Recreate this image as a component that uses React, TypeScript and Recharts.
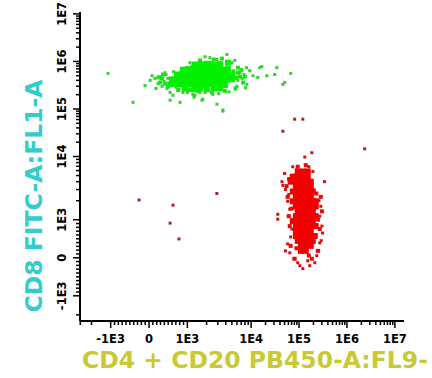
import { ScatterChart, Scatter, XAxis, YAxis, Label } from "recharts"

// axis decades as shown on the cytometer plot
const MAJOR_TICKS = [-1e3, 0, 1e3, 1e4, 1e5, 1e6, 1e7]
const MAJOR_LABELS = ["-1E3", "0", "1E3", "1E4", "1E5", "1E6", "1E7"]

// [CD4+CD20 PB450, CD8 FITC] event values
const GREEN_CORE: [number, number][] = [
  [1310, 8.6e5], [1580, 8.8e5], [1890, 8.6e5], [2260, 8.9e5], [2710, 8.6e5], [3240, 8.8e5], [4330, 9.4e5],
  [885, 6.7e5], [1020, 6.9e5], [1270, 6.7e5], [1470, 6.8e5], [1750, 6.7e5], [2100, 6.9e5], [2510, 6.7e5], [3010, 6.8e5], [3610, 6.7e5], [4330, 6.9e5],
  [730, 5.3e5], [860, 5.4e5], [990, 5.3e5], [1220, 5.2e5], [1410, 5.3e5], [1690, 5.4e5], [2030, 5.3e5], [2430, 5.2e5], [2910, 5.3e5], [3480, 5.4e5], [4170, 5.3e5], [5000, 5.2e5],
  [600, 4.2e5], [730, 4.3e5], [860, 4.2e5], [990, 4.1e5], [1220, 4.2e5], [1410, 4.3e5], [1690, 4.2e5], [2030, 4.1e5], [2430, 4.2e5], [2910, 4.3e5], [3480, 4.2e5], [4170, 4.1e5], [5000, 4.2e5],
  [550, 3.3e5], [680, 3.4e5], [810, 3.3e5], [940, 3.2e5], [1100, 3.3e5], [1310, 3.4e5], [1580, 3.3e5], [1890, 3.2e5], [2260, 3.3e5], [2710, 3.4e5], [3240, 3.3e5], [3880, 3.2e5],
  [940, 2.7e5], [1310, 2.6e5], [1580, 2.7e5], [2030, 2.6e5], [2610, 2.7e5], [3240, 2.7e5],
]

const GREEN_EDGE: [number, number][] = [
  [1580, 1.05e6], [2610, 1.1e6], [3480, 1.15e6], [1960, 9.4e5], [6200, 7.4e5], [6660, 4.8e5], [7500, 3.6e5],
  [5700, 2.7e5], [6200, 5.8e5], [339, 4.4e5], [417, 3.4e5], [290, 3.6e5], [365, 5.3e5], [495, 3.0e5],
  [1100, 2.5e5], [1470, 2.4e5], [2430, 2.23e5], [3880, 2.4e5], [760, 2.5e5], [5300, 6.2e5], [1200, 7.8e5],
  [7000, 6.6e5], [5900, 4.5e5], [8000, 4.8e5], [250, 4.6e5],
]

const GREEN_SPARSE: [number, number][] = [
  [-1100, 5.6e5], [-417, 1.38e5], [-104, 3.1e5], [78, 5.0e5], [30, 4.0e5], [156, 4.4e5], [234, 3.4e5], [290, 4.8e5],
  [339, 3.0e5], [391, 3.8e5], [443, 5.3e5], [469, 2.7e5], [495, 4.4e5], [417, 5.8e5], [182, 2.7e5], [550, 2.23e5],
  [625, 1.94e5], [550, 1.53e5], [810, 1.38e5], [885, 2.23e5], [1000, 2.23e5], [1220, 2.03e5], [1270, 1.76e5],
  [1310, 1.94e5], [1580, 2.23e5], [1690, 1.53e5], [1750, 1.6e5], [1890, 2.23e5], [2510, 2.03e5], [2910, 1.26e5],
  [3610, 9.5e4], [3610, 9.0e4], [2260, 1.2e6], [4170, 1.4e6], [5560, 1.05e6], [8500, 7.4e5], [1.09e4, 5.0e5],
  [1.52e4, 7.4e5], [1.67e4, 7.8e5], [2.13e4, 5.0e5], [1.38e4, 4.6e5], [3.44e4, 7.4e5], [3.1e4, 5.3e5],
  [4.6e4, 3.3e5], [5.0e4, 3.6e5], [6.7e4, 5.6e5], [8600, 3.3e5], [6200, 4.0e5], [6660, 5.8e5], [7200, 4.4e5],
  [6000, 3.0e5], [7700, 5.3e5], [1100, 9.4e5], [5000, 9.4e5], [2910, 1.1e6], [9500, 6.4e5], [8200, 2.8e5],
  [640, 6.1e5], [700, 2.9e5], [3100, 2.1e5], [4500, 2.3e5], [1900, 1.25e6],
]

const RED_CORE: [number, number][] = [
  [9.4e4, 5.8e3], [1.2e5, 5.8e3], [1.52e5, 5.8e3],
  [7.4e4, 4.8e3], [9.4e4, 4.8e3], [1.2e5, 4.8e3], [1.52e5, 4.8e3],
  [6.7e4, 4.0e3], [8.6e4, 4.0e3], [1.09e5, 4.0e3], [1.38e5, 4.0e3], [1.76e5, 4.0e3],
  [8.6e4, 3.4e3], [1.09e5, 3.4e3], [1.38e5, 3.4e3], [1.76e5, 3.4e3],
  [7.4e4, 2.8e3], [9.4e4, 2.8e3], [1.2e5, 2.8e3], [1.52e5, 2.8e3], [1.94e5, 2.8e3],
  [8.6e4, 2.3e3], [1.09e5, 2.3e3], [1.38e5, 2.3e3], [1.76e5, 2.3e3],
  [7.4e4, 1.96e3], [9.4e4, 1.96e3], [1.2e5, 1.96e3], [1.52e5, 1.96e3], [1.94e5, 1.96e3], [2.23e5, 1.96e3],
  [8.6e4, 1.63e3], [1.09e5, 1.63e3], [1.38e5, 1.63e3], [1.76e5, 1.63e3], [2.23e5, 1.63e3],
  [9.4e4, 1.36e3], [1.2e5, 1.36e3], [1.52e5, 1.36e3], [1.94e5, 1.36e3],
  [8.6e4, 1.14e3], [1.09e5, 1.14e3], [1.38e5, 1.14e3], [1.76e5, 1.14e3], [2.23e5, 1.14e3],
  [7.4e4, 964], [9.4e4, 964], [1.2e5, 964], [1.52e5, 964], [1.94e5, 964],
  [8.6e4, 833], [1.09e5, 833], [1.38e5, 833], [1.76e5, 833], [2.23e5, 833],
  [8.6e4, 703], [1.09e5, 703], [1.38e5, 703], [1.76e5, 703],
  [8.6e4, 573], [1.09e5, 573], [1.38e5, 573], [1.76e5, 573], [2.13e5, 573],
  [9.4e4, 443], [1.2e5, 443], [1.52e5, 443], [1.94e5, 443],
  [1.09e5, 313], [1.38e5, 313], [1.76e5, 313],
  [1.09e5, 182], [1.38e5, 182],
]

const RED_EDGE: [number, number][] = [
  [5.5e4, 3.4e3], [5.8e4, 2.3e3], [6.1e4, 1.14e3], [6.4e4, 833], [6.7e4, 313], [2.84e5, 2.3e3], [3.0e5, 1.36e3],
  [2.7e5, 755], [2.46e5, 182], [9.4e4, 6.9e3], [1.38e5, 7.3e3], [8.1e4, -26], [1.85e5, -26], [7.0e4, 1.5e3],
  [2.5e5, 1.0e3], [2.3e5, 2.6e3], [6.2e4, 4.4e3], [1.6e5, 60], [8.8e4, 250],
]

const RED_SPARSE: [number, number][] = [
  [1.32e5, 9.8e3], [1.85e5, 1.2e4], [7.4e4, 6.9e3], [5.0e4, 5.4e3], [4.4e4, 4.0e3], [4.6e4, 3.5e3], [3.4e5, 4.0e3],
  [3.6e4, 1.22e3], [3.6e4, 1.02e3], [3.0e5, 833], [3.1e5, 651], [2.7e5, 391], [5.8e4, 365], [6.4e4, 130],
  [5.2e4, 182], [2.34e5, 52], [9.4e4, -130], [1.67e5, -208], [1.52e5, -78], [1.04e5, -208], [1.2e5, -286],
  [5.8e4, 1.96e3], [6.1e4, 2.5e3], [5.2e4, 3.0e3], [2.84e5, 1.63e3], [2.7e5, 1.14e3], [2.57e5, 182],
  [7.8e4, -26], [2.13e5, -130], [8.6e4, 5.2e3], [1.6e5, 6.9e3], [1.94e5, 5.8e3], [6.4e4, 1.47e3],
  [7.1e4, 755], [6.7e4, 547], [2.6e5, 2.0e3], [2.9e5, 450],
]

const RED_OUTLIERS: [number, number][] = [
  [8.1e4, 6.1e4], [1.2e5, 6.1e4], [4.6e4, 3.4e4], [2.34e6, 1.45e4],
  [-260, 2.05e3], [625, 1.7e3], [2.9e3, 2.6e3], [550, 911], [781, 495],
]

// FlowJo-like biexponential display: linear around zero, log above 1E3
function biex(v: number) {
  const a = Math.abs(v)
  let u: number
  if (a <= 1e3) u = (a / 1e3) * 0.8
  else if (a <= 1e4) u = 0.8 + 1.33 * Math.log10(a / 1e3)
  else u = 2.13 + Math.log10(a / 1e4)
  return v < 0 ? -u : u
}

const X_DOMAIN: [number, number] = [-1.44, 5.32]
const Y_DOMAIN: [number, number] = [-1.33, 5.17]

const minorValues: number[] = []
for (let k = 1; k < 10; k++) minorValues.push(k * 100, -k * 100)
for (const d of [1e3, 1e4, 1e5, 1e6]) for (let k = 2; k < 10; k++) minorValues.push(k * d)
minorValues.push(-2e3, -3e3)

function ticksFor(domain: [number, number]) {
  return [...MAJOR_TICKS, ...minorValues]
    .map(biex)
    .filter((u) => u >= domain[0] && u <= domain[1])
    .sort((a, b) => a - b)
}

function labelFor(u: number) {
  const i = MAJOR_TICKS.findIndex((m) => Math.abs(biex(m) - u) < 1e-9)
  return i >= 0 ? MAJOR_LABELS[i] : null
}

const toPoints = (arr: [number, number][]) => arr.map(([x, y]) => ({ x: biex(x), y: biex(y) }))

const tickFont = { fontFamily: "DejaVu Sans", fontWeight: 700, fontSize: 11.5, fill: "#000" }
const titleFont = { fontFamily: "DejaVu Sans", fontWeight: 700, fontSize: 23.5 }

function XTick({ x, y, payload }: any) {
  const label = labelFor(payload.value)
  return (
    <g>
      <line x1={x} x2={x} y1={y} y2={y + (label ? 7 : 4)} stroke="#000" strokeWidth={1.5} />
      {label && (
        <text x={x} y={y + 22} textAnchor="middle" {...tickFont}>
          {label}
        </text>
      )}
    </g>
  )
}

function YTick({ x, y, payload }: any) {
  const label = labelFor(payload.value)
  const lx = x - 14
  return (
    <g>
      <line x1={x - (label ? 7 : 4)} x2={x} y1={y} y2={y} stroke="#000" strokeWidth={1.5} />
      {label && (
        <text x={lx} y={y} textAnchor="middle" transform={`rotate(-90, ${lx}, ${y})`} {...tickFont}>
          {label}
        </text>
      )}
    </g>
  )
}

const square = (size: number, fill: string) => (p: any) => (
  <rect x={p.cx - size / 2} y={p.cy - size / 2} width={size} height={size} fill={fill} />
)

export default function App() {
  return (
    <div style={{ position: "absolute", left: 0, top: 0, width: 432, height: 378, background: "#fff" }}>
      <ScatterChart width={432} height={378} margin={{ top: 12, right: 28, bottom: 0, left: 0 }}>
        <XAxis
          type="number"
          dataKey="x"
          domain={X_DOMAIN}
          allowDataOverflow
          ticks={ticksFor(X_DOMAIN)}
          interval={0}
          tickSize={0}
          tickMargin={0}
          tick={<XTick />}
          height={57}
          axisLine={{ stroke: "#000", strokeWidth: 2 }}
        >
          <Label
            content={() => (
              <text x={82} y={368} fill="#c9c935" {...titleFont}>
                CD4 + CD20 PB450-A:FL9-
              </text>
            )}
          />
        </XAxis>
        <YAxis
          type="number"
          dataKey="y"
          domain={Y_DOMAIN}
          allowDataOverflow
          ticks={ticksFor(Y_DOMAIN)}
          interval={0}
          tickSize={0}
          tickMargin={0}
          tick={<YTick />}
          width={80}
          axisLine={{ stroke: "#000", strokeWidth: 2 }}
        >
          <Label
            content={() => (
              <text x={42} y={196} textAnchor="middle" fill="#33cccc" transform="rotate(-90, 42, 196)" {...titleFont}>
                CD8 FITC-A:FL1-A
              </text>
            )}
          />
        </YAxis>
        <Scatter data={toPoints(GREEN_SPARSE)} shape={square(3, "#2fd42f")} isAnimationActive={false} />
        <Scatter data={toPoints(GREEN_EDGE)} shape={square(4, "#10e810")} isAnimationActive={false} />
        <Scatter data={toPoints(GREEN_CORE)} shape={square(6, "#00f000")} isAnimationActive={false} />
        <Scatter data={toPoints(RED_SPARSE)} shape={square(3, "#d81010")} isAnimationActive={false} />
        <Scatter data={toPoints(RED_EDGE)} shape={square(4, "#e80808")} isAnimationActive={false} />
        <Scatter data={toPoints(RED_CORE)} shape={square(6, "#f00000")} isAnimationActive={false} />
        <Scatter data={toPoints(RED_OUTLIERS)} shape={square(3, "#b0202a")} isAnimationActive={false} />
      </ScatterChart>
    </div>
  )
}
